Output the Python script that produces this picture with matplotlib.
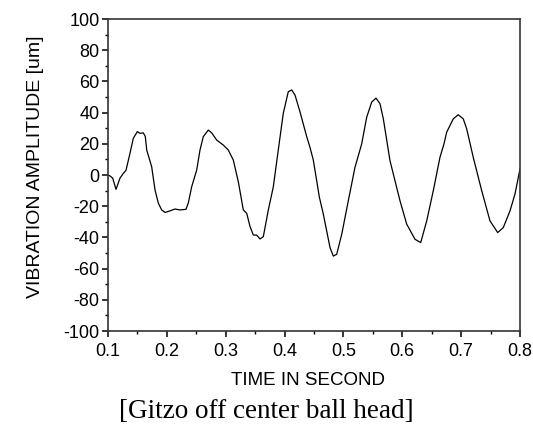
import matplotlib
matplotlib.use("Agg")
import matplotlib.pyplot as plt
from matplotlib.ticker import MultipleLocator

time_s = [0.100, 0.1034, 0.108, 0.1136, 0.1204, 0.126, 0.1306, 0.1374, 0.143, 0.1498,
          0.1544, 0.160, 0.1634, 0.1658, 0.1742, 0.1799, 0.1855, 0.1912, 0.1969, 0.2053,
          0.2138, 0.2223, 0.2325, 0.2364, 0.2422, 0.2507, 0.2563, 0.2619, 0.2704, 0.2762,
          0.2847, 0.2959, 0.3044, 0.3129, 0.3214, 0.3299, 0.3357, 0.3413, 0.3469, 0.3526,
          0.3582, 0.3639, 0.3724, 0.3809, 0.3893, 0.3978, 0.4063, 0.4121, 0.4177, 0.4262,
          0.4376, 0.4432, 0.4488, 0.4546, 0.459, 0.4658, 0.4772, 0.4828, 0.4886, 0.4971,
          0.5083, 0.5196, 0.531, 0.5395, 0.548, 0.5553, 0.5621, 0.5678, 0.5791, 0.5961,
          0.6075, 0.6216, 0.6313, 0.6415, 0.6527, 0.664, 0.6708, 0.6754, 0.6866, 0.6951,
          0.7036, 0.7094, 0.7206, 0.7349, 0.749, 0.7621, 0.7716, 0.783, 0.7915, 0.800]
amplitude_um = [0.0, -0.6, -2, -9.2, -2, 1, 3, 14, 23.5, 27.8,
                26.7, 27, 24.6, 16, 5.3, -9.6, -18, -22.4, -24, -23,
                -21.8, -22.4, -22, -18, -7.5, 3.2, 16, 24.6, 28.8, 27,
                22.4, 19.2, 16, 9.6, -4.3, -22.4, -24.6, -33, -38.5, -38.5,
                -41, -39.5, -22.4, -7.5, 16, 39.5, 53.4, 54.5, 51.3, 40.5,
                24.6, 17.7, 9.6, -3.7, -14, -25, -46.5, -52, -50.8, -38,
                -16.5, 4.9, 19.9, 37, 46.7, 49.3, 45.7, 36, 9.2, -16.5,
                -31.5, -41.2, -43.3, -29.4, -10, 11.3, 19.9, 27.4, 36, 38.6,
                36, 29.6, 11.3, -10, -29.4, -36.9, -33.7, -23, -12.2, 3.9]

x_ticks = [0.1, 0.2, 0.3, 0.4, 0.5, 0.6, 0.7, 0.8]
x_tick_labels = ["0.1", "0.2", "0.3", "0.4", "0.5", "0.6", "0.7", "0.8"]
y_ticks = [-100, -80, -60, -40, -20, 0, 20, 40, 60, 80, 100]
y_tick_labels = [str(v) for v in y_ticks]

plt.rcParams['font.family'] = ['Liberation Sans', 'DejaVu Sans']

fig = plt.figure(figsize=(5.33, 4.29), dpi=100)
ax = fig.add_axes([108/533, 1-331/429, (520-108)/533, (331-19)/429])
ax.plot(time_s, amplitude_um, color='black', linewidth=0.9)

ax.set_xlim(0.1, 0.8)
ax.set_ylim(-100, 100)
ax.set_xticks(x_ticks)
ax.set_xticklabels(x_tick_labels)
ax.set_yticks(y_ticks)
ax.set_yticklabels(y_tick_labels)
ax.xaxis.set_minor_locator(MultipleLocator(0.05))
ax.yaxis.set_minor_locator(MultipleLocator(10))
ax.tick_params(which='major', direction='out', length=4.5, width=1.1, labelsize=13, pad=1.5)
ax.tick_params(axis='x', which='major', pad=4.5)
ax.tick_params(which='minor', direction='out', length=2.3, width=1.0)
ax.tick_params(top=False, right=False)
for s in ax.spines.values():
    s.set_linewidth(1.2)
    s.set_color('#333333')

ax.set_xlabel("TIME IN SECOND", fontsize=13.5)
ax.xaxis.set_label_coords(0.5 + (308 - 314) / 412, -(372 - 331) / 312)
ax.xaxis.label.set_va('top')
ax.set_ylabel("VIBRATION AMPLITUDE [um]", fontsize=14)
ax.yaxis.set_label_coords((44 - 108) / 412, 0.5 + (175 - 167) / 312)

fig.text(266.5 / 533, 1 - 412 / 429, "[Gitzo off center ball head]",
         ha='center', va='center', fontsize=19.5, family=['Liberation Serif', 'DejaVu Serif'])

fig.savefig("out.png", dpi=100)
